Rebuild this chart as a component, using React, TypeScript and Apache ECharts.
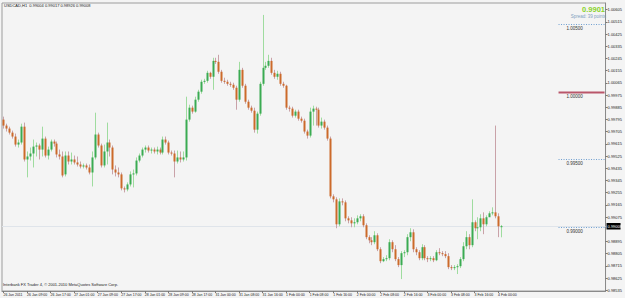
import React, { useEffect, useRef } from "react";
import * as echarts from "echarts";

const opens = [
  0.99794, 0.9975, 0.99728, 0.99698, 0.99669, 0.9961, 0.99625, 0.99742, 0.995, 0.99522,
  0.99544, 0.99595, 0.99603, 0.99573, 0.99654, 0.99529, 0.99573, 0.99632, 0.99617, 0.99537,
  0.99522, 0.9939, 0.99529, 0.99485, 0.995, 0.99478, 0.99463, 0.99448, 0.99456, 0.99441,
  0.99404, 0.99515, 0.99684, 0.99603, 0.99456, 0.99559, 0.99625, 0.99588, 0.99426, 0.99404,
  0.9939, 0.99287, 0.99279, 0.99316, 0.9939, 0.99397, 0.99492, 0.99529, 0.99573, 0.99588,
  0.99566, 0.99573, 0.99559, 0.99573, 0.99551, 0.99647, 0.99625, 0.99551, 0.99544, 0.99485,
  0.99515, 0.995, 0.99515, 0.99794, 0.99882, 0.99853, 0.99941, 1.0, 1.00073, 1.0008,
  1.00139, 1.0011, 1.00227, 1.0022, 1.00147, 1.0008, 1.00073, 1.00058, 1.00051, 1.00029,
  0.99941, 1.00161, 1.00044, 0.99926, 0.99882, 0.9986, 0.9972, 0.99838, 1.00058, 1.00176,
  1.00191, 1.00227, 1.00139, 1.0011, 1.00132, 1.00058, 1.00044, 0.99882, 0.99875, 0.99823,
  0.99853, 0.99801, 0.99786, 0.99706, 0.99676, 0.99853, 0.99875, 0.99867, 0.9975, 0.99779,
  0.99735, 0.99654, 0.99228, 0.99206, 0.99022, 0.99191, 0.99184, 0.99066, 0.99051, 0.99029,
  0.99037, 0.99066, 0.99081, 0.99015, 0.98927, 0.98904, 0.9889, 0.98941, 0.98838, 0.9875,
  0.98765, 0.98772, 0.9889, 0.98838, 0.98765, 0.98721, 0.98809, 0.98816, 0.98927, 0.98963,
  0.98838, 0.98816, 0.98772, 0.98853, 0.98772, 0.98765, 0.98772, 0.98757, 0.98816, 0.98809,
  0.98802, 0.98787, 0.98706, 0.98699, 0.98706, 0.98713, 0.98765, 0.9886, 0.98927, 0.98868,
  0.99037, 0.98993, 0.99, 0.99066, 0.99022, 0.99074, 0.99103, 0.9911, 0.99081, 0.99004,
];

const closes = [
  0.9975, 0.99728, 0.99698, 0.99669, 0.9961, 0.99625, 0.99742, 0.995, 0.99522, 0.99544,
  0.99595, 0.99603, 0.99573, 0.99654, 0.99529, 0.99573, 0.99632, 0.99617, 0.99537, 0.99522,
  0.99382, 0.99529, 0.99485, 0.995, 0.99478, 0.99463, 0.99448, 0.99456, 0.99441, 0.99404,
  0.99515, 0.99684, 0.99603, 0.99456, 0.99559, 0.99625, 0.99588, 0.99426, 0.99404, 0.9939,
  0.99287, 0.99279, 0.99316, 0.9939, 0.99397, 0.99492, 0.99529, 0.99573, 0.99588, 0.99566,
  0.99573, 0.99559, 0.99573, 0.99551, 0.99647, 0.99625, 0.99551, 0.99544, 0.99485, 0.99515,
  0.995, 0.99515, 0.99794, 0.99882, 0.99853, 0.99941, 1.0, 1.00073, 1.0008, 1.00139,
  1.0011, 1.00227, 1.0022, 1.00147, 1.0008, 1.00073, 1.00058, 1.00051, 1.00029, 0.99941,
  1.00161, 1.00044, 0.99926, 0.99882, 0.9986, 0.9972, 0.99838, 1.00058, 1.00176, 1.00191,
  1.00227, 1.00139, 1.0011, 1.00132, 1.00058, 1.00044, 0.99882, 0.99875, 0.99823, 0.99853,
  0.99801, 0.99786, 0.99706, 0.99676, 0.99853, 0.99875, 0.99867, 0.9975, 0.99779, 0.99735,
  0.99654, 0.99228, 0.99206, 0.99022, 0.99191, 0.99184, 0.99066, 0.99051, 0.99029, 0.99037,
  0.99066, 0.99081, 0.99015, 0.98927, 0.98904, 0.9889, 0.98941, 0.98838, 0.9875, 0.98765,
  0.98772, 0.9889, 0.98838, 0.98765, 0.98721, 0.98809, 0.98816, 0.98927, 0.98963, 0.98838,
  0.98816, 0.98772, 0.98853, 0.98772, 0.98765, 0.98772, 0.98757, 0.98816, 0.98809, 0.98802,
  0.98787, 0.98706, 0.98699, 0.98706, 0.98713, 0.98765, 0.9886, 0.98927, 0.98868, 0.99037,
  0.98993, 0.99, 0.99066, 0.99022, 0.99074, 0.99103, 0.9911, 0.99081, 0.99007, 0.99008,
];

const highs = [
  0.99816, 0.99764, 0.99742, 0.99713, 0.99691, 0.99647, 0.99764, 0.99772, 0.99559, 0.99588,
  0.99647, 0.99625, 0.99617, 0.99742, 0.99669, 0.99595, 0.99647, 0.99647, 0.99632, 0.99573,
  0.99559, 0.99559, 0.99559, 0.99551, 0.99529, 0.99522, 0.99485, 0.9947, 0.9947, 0.99463,
  0.99559, 0.99845, 0.99698, 0.99617, 0.9961, 0.99772, 0.99647, 0.99603, 0.99456, 0.99441,
  0.99404, 0.99301, 0.99331, 0.99412, 0.99426, 0.99515, 0.99544, 0.99588, 0.99603, 0.99603,
  0.99588, 0.99588, 0.99595, 0.99588, 0.99669, 0.99669, 0.99639, 0.99566, 0.99566, 0.99566,
  0.99559, 0.99559, 0.99963, 0.99904, 0.99897, 0.99963, 1.00014, 1.00088, 1.00095, 1.00154,
  1.00147, 1.0025, 1.0025, 1.00272, 1.00161, 1.00103, 1.00088, 1.00073, 1.00066, 1.00044,
  1.0022, 1.00176, 1.00058, 0.99941, 0.99897, 0.99882, 0.99853, 1.00073, 1.00566, 1.0022,
  1.00272, 1.0025, 1.00161, 1.00154, 1.00147, 1.00073, 1.00051, 0.99897, 0.99889, 0.99867,
  0.99867, 0.99816, 0.99801, 0.9972, 0.99882, 0.99897, 0.99889, 0.99882, 0.99809, 0.99794,
  0.9975, 0.99669, 0.99243, 0.99221, 0.99213, 0.99213, 0.99198, 0.99081, 0.99074, 0.99066,
  0.99088, 0.99096, 0.99096, 0.99029, 0.98941, 0.98927, 0.98971, 0.98956, 0.98853, 0.9878,
  0.98794, 0.98912, 0.98904, 0.98868, 0.9878, 0.98824, 0.98831, 0.98949, 0.98993, 0.98985,
  0.98853, 0.98831, 0.98875, 0.98868, 0.98787, 0.98787, 0.98787, 0.98831, 0.98846, 0.98824,
  0.98824, 0.98809, 0.98721, 0.98721, 0.98728, 0.9878, 0.9889, 0.98971, 0.98949, 0.99206,
  0.99051, 0.99074, 0.99096, 0.9911, 0.99088, 0.99118, 0.99147, 0.9975, 0.99103, 0.99017,
];

const lows = [
  0.99728, 0.99706, 0.99684, 0.99654, 0.99595, 0.99588, 0.9961, 0.99485, 0.99368, 0.99492,
  0.99441, 0.99522, 0.995, 0.99522, 0.99515, 0.995, 0.99559, 0.99595, 0.99515, 0.995,
  0.99368, 0.99375, 0.99463, 0.99463, 0.99463, 0.99448, 0.99434, 0.99434, 0.99426, 0.9939,
  0.99301, 0.995, 0.99588, 0.99441, 0.99441, 0.99463, 0.99522, 0.9939, 0.99375, 0.99368,
  0.99272, 0.99257, 0.99265, 0.99301, 0.99294, 0.99382, 0.99478, 0.99515, 0.99551, 0.99551,
  0.99544, 0.99544, 0.99537, 0.99537, 0.99537, 0.9961, 0.99537, 0.99529, 0.99368, 0.9947,
  0.99478, 0.99485, 0.99492, 0.99779, 0.99838, 0.99845, 0.99926, 0.99985, 1.00058, 1.00066,
  1.00095, 1.00014, 1.00205, 1.00132, 1.00066, 1.00058, 1.00044, 1.00036, 1.00014, 0.99867,
  0.99926, 1.00029, 0.99911, 0.99867, 0.99845, 0.99698, 0.99691, 0.99823, 1.00044, 1.00161,
  1.00176, 1.00125, 1.00095, 1.00088, 1.00044, 1.00029, 0.99867, 0.99853, 0.99809, 0.99809,
  0.99786, 0.99772, 0.99691, 0.99654, 0.99662, 0.9975, 0.9975, 0.99735, 0.99728, 0.9972,
  0.99639, 0.99213, 0.99184, 0.98993, 0.99007, 0.99162, 0.99044, 0.99029, 0.99, 0.99,
  0.99022, 0.99044, 0.99, 0.98912, 0.98882, 0.98868, 0.98875, 0.98824, 0.98735, 0.98743,
  0.9875, 0.98757, 0.98816, 0.9875, 0.98706, 0.98618, 0.9878, 0.98794, 0.98897, 0.98816,
  0.98794, 0.98757, 0.98757, 0.98757, 0.98743, 0.9875, 0.98743, 0.9875, 0.98794, 0.98787,
  0.98772, 0.98691, 0.98684, 0.98684, 0.98655, 0.98699, 0.9875, 0.98838, 0.98838, 0.98853,
  0.98971, 0.98912, 0.98971, 0.98949, 0.99007, 0.99081, 0.99088, 0.99066, 0.98927, 0.98926,
];

const timeLabels = [
  "26 Jan 2011", "26 Jan 09:00", "26 Jan 17:00", "27 Jan 01:00", "27 Jan 09:00",
  "27 Jan 17:00", "28 Jan 01:00", "28 Jan 09:00", "28 Jan 17:00", "31 Jan 00:00",
  "31 Jan 08:00", "31 Jan 16:00", "1 Feb 00:00", "1 Feb 08:00", "1 Feb 16:00",
  "2 Feb 00:00", "2 Feb 08:00", "2 Feb 16:00", "3 Feb 00:00", "3 Feb 08:00",
  "3 Feb 16:00", "4 Feb 00:00",
];

// 0.98985 is hidden behind the bid price box in the reference
const yTicks = [
  1.00605, 1.00515, 1.00425, 1.00335, 1.00245, 1.00155, 1.00065, 0.99975, 0.99885,
  0.99795, 0.99705, 0.99615, 0.99525, 0.99435, 0.99345, 0.99255, 0.99165, 0.99075,
  0.98895, 0.98805, 0.98715, 0.98625, 0.98535,
];

const priceLevels = [1.005, 1.0, 0.995, 0.99];
const bidPrice = 0.99008;
const bidText = "0.9901";
const spreadText = "Spread: 39 points";
const symbolText = "USDCAD,H1";
const copyrightText = "Interbank FX Trader 4, \u00a9 2001-2010 MetaQuotes Software Corp.";
const barsPerLabel = 8;
const totalSlots = 205;

const App: React.FC = () => {
  const ref = useRef<HTMLDivElement>(null);

  useEffect(() => {
    if (!ref.current) return;
    const chart = echarts.init(ref.current, null, { renderer: "svg" });

    const slots: string[] = [];
    for (let i = 0; i < totalSlots; i++) {
      const k = i / barsPerLabel;
      slots.push(i % barsPerLabel === 0 && k < timeLabels.length ? timeLabels[k] : "");
    }
    const candleData = opens.map((o, i) => [i, o, closes[i], lows[i], highs[i]]);
    const last = opens.length - 1;
    const headerText = `${symbolText}  ${opens[last].toFixed(5)} ${highs[last].toFixed(5)} ${lows[last].toFixed(5)} ${closes[last].toFixed(5)}`;
    const showSlot = (_: number, v: string) => v !== "";

    chart.setOption({
      animation: false,
      backgroundColor: "#f4f4f4",
      textStyle: { fontFamily: "Liberation Sans, Arial, sans-serif" },
      grid: {
        left: 2,
        right: 14,
        top: 3,
        bottom: 7,
        show: true,
        borderColor: "#9c9c9c",
        borderWidth: 1,
        backgroundColor: "#f4f4f4",
      },
      xAxis: {
        type: "category",
        data: slots,
        boundaryGap: true,
        axisLine: { lineStyle: { color: "#8a8a8a" } },
        axisTick: { show: true, alignWithLabel: true, interval: showSlot, length: 2, lineStyle: { color: "#777" } },
        axisLabel: { interval: showSlot, fontSize: 3.5, color: "#222", align: "left", margin: 1.5 },
        splitLine: { show: false },
      },
      yAxis: {
        type: "value",
        position: "right",
        min: 0.9853,
        max: 1.00654,
        scale: true,
        axisLine: { show: true, lineStyle: { color: "#8a8a8a" } },
        axisTick: { show: true, length: 2, customValues: yTicks, lineStyle: { color: "#777" } },
        axisLabel: {
          customValues: yTicks,
          fontSize: 4,
          color: "#222",
          margin: 2,
          formatter: (v: number) => v.toFixed(5),
        },
        splitLine: { show: false },
      },
      graphic: [
        { type: "text", left: 4, top: 3.5, style: { text: headerText, fontSize: 4, fill: "#222" } },
        {
          type: "text",
          x: 605,
          y: 5,
          z: 100,
          style: { text: bidText, fontSize: 7.5, fontWeight: "bold", fill: "#8ad22c", align: "right" },
        },
        {
          type: "text",
          x: 606,
          y: 14,
          z: 100,
          style: { text: spreadText, fontSize: 4.5, fill: "#7f9fc0", align: "right" },
        },
        { type: "text", left: 3, top: 282, style: { text: copyrightText, fontSize: 4, fill: "#222" } },
      ],
      series: [
        {
          type: "custom",
          name: "bid",
          clip: false,
          z: 1,
          data: [[0, bidPrice]],
          renderItem: (params: any, api: any) => {
            const cs = params.coordSys;
            const y = Math.round(api.coord([0, api.value(1)])[1]) + 0.5;
            const right = cs.x + cs.width;
            return {
              type: "group",
              children: [
                { type: "line", shape: { x1: cs.x, y1: y, x2: right, y2: y }, style: { stroke: "#dfe4ea", lineWidth: 1 } },
                { type: "rect", shape: { x: right + 1, y: y - 3.5, width: 14, height: 6.5 }, style: { fill: "#000" } },
                {
                  type: "text",
                  x: right + 2,
                  y: y - 2.5,
                  style: { text: api.value(1).toFixed(5), fontSize: 4, fill: "#fff" },
                },
              ],
            };
          },
        },
        {
          type: "custom",
          name: "levels",
          clip: false,
          z: 2,
          data: priceLevels.map((v, k) => [k, v]),
          renderItem: (params: any, api: any) => {
            const cs = params.coordSys;
            const v = api.value(1);
            const y = Math.round(api.coord([0, v])[1]) + 0.5;
            const right = cs.x + cs.width;
            const solid = params.dataIndex === 1;
            return {
              type: "group",
              children: [
                {
                  type: "line",
                  shape: { x1: right - 47, y1: y, x2: right - 1, y2: y },
                  style: solid
                    ? { stroke: "#b9566a", lineWidth: 2 }
                    : { stroke: "#6f9fd0", lineWidth: 1, lineDash: [1, 1.5] },
                },
                {
                  type: "text",
                  x: right - 39,
                  y: y + 1.5,
                  style: { text: v.toFixed(5), fontSize: 4.5, fill: "#333" },
                },
              ],
            };
          },
        },
        {
          type: "custom",
          name: "USDCAD",
          z: 3,
          data: candleData,
          encode: { x: 0, y: [1, 2, 3, 4] },
          renderItem: (params: any, api: any) => {
            const i = api.value(0);
            const o = api.value(1);
            const c = api.value(2);
            const l = api.value(3);
            const h = api.value(4);
            const pO = api.coord([i, o]);
            const pC = api.coord([i, c]);
            const pL = api.coord([i, l]);
            const pH = api.coord([i, h]);
            const xi = Math.round(pO[0]);
            const up = c >= o;
            const top = Math.min(pO[1], pC[1]);
            const bot = Math.max(pO[1], pC[1]);
            return {
              type: "group",
              children: [
                {
                  type: "line",
                  shape: { x1: xi + 0.5, y1: pH[1], x2: xi + 0.5, y2: pL[1] },
                  style: { stroke: up ? "#9fdc9f" : "#c9a2a8", lineWidth: 1 },
                },
                {
                  type: "rect",
                  shape: { x: xi - 0.5, y: top, width: 2, height: Math.max(1, bot - top) },
                  style: { fill: up ? "#3aab52" : "#cc6a2a" },
                },
              ],
            };
          },
        },
      ],
    });

    return () => chart.dispose();
  }, []);

  return (
    <div
      ref={ref}
      style={{ position: "absolute", left: 0, top: 0, width: 625, height: 298, background: "#f4f4f4" }}
    />
  );
};

export default App;
